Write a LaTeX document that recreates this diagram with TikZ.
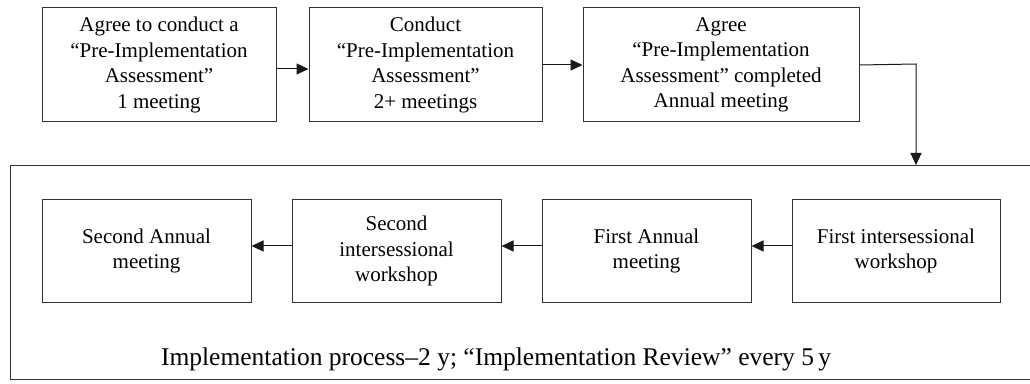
\documentclass[tikz,border=0pt]{standalone}
\usepackage{fontspec}
\setmainfont{Liberation Serif}
\usetikzlibrary{arrows.meta}
\tikzset{
  box/.style={draw=black!80, line width=1pt, align=center, inner sep=0pt,
    font=\rmfamily\fontsize{21}{25.5}\selectfont, text=black},
  topbox/.style={box, minimum height=114pt},
  innerbox/.style={box, minimum width=209pt, minimum height=102pt},
  arr/.style={draw=black!90, line width=1pt, -{Triangle[length=12pt,width=11pt]}},
}
\begin{document}
\begin{tikzpicture}[x=1pt,y=1pt]
\useasboundingbox (0,0) rectangle (1030,383);
% top row
\node[topbox, minimum width=234pt] (b1) at (159,318) {Agree to conduct a\\“Pre-Implementation\\Assessment”\\1 meeting};
\node[topbox, minimum width=233pt] (b2) at (425.5,318) {Conduct\\“Pre-Implementation\\Assessment”\\2+ meetings};
\node[topbox, minimum width=276pt] (b3) at (721,318) {Agree\\“Pre-Implementation\\Assessment” completed\\Annual meeting};
% big box
\node[draw=black!80, line width=1pt, minimum width=1026pt, minimum height=214pt, anchor=south west, inner sep=0pt] (impl) at (10,3) {};
% inner boxes
\node[innerbox] (ia) at (146.5,132) {Second Annual\\meeting};
\node[innerbox] (ib) at (396.5,132) {Second\\intersessional\\workshop};
\node[innerbox] (ic) at (646.5,132) {First Annual\\meeting};
\node[innerbox, minimum width=208pt] (id) at (896,132) {First intersessional\\workshop};
\node[anchor=base, font=\rmfamily\fontsize{25.5}{30}\selectfont, text=black, inner sep=0pt] (lbl) at (496,18) {Implementation process–2 y; “Implementation Review” every 5\,y};
% connectors
\draw[arr] ([yshift=-4pt]b1.east) -- ([yshift=-4pt]b1.east -| b2.west);
\draw[arr] (b2.east) -- (b3.west);
\coordinate (turn) at (916,319);
\draw[arr] (b3.east) -- (turn) -- (turn |- impl.north);
\draw[arr] ([yshift=5pt]id.west) -- ([yshift=5pt]ic.east);
\draw[arr] ([yshift=5pt]ic.west) -- ([yshift=5pt]ib.east);
\draw[arr] ([yshift=5pt]ib.west) -- ([yshift=5pt]ia.east);
\end{tikzpicture}
\end{document}
